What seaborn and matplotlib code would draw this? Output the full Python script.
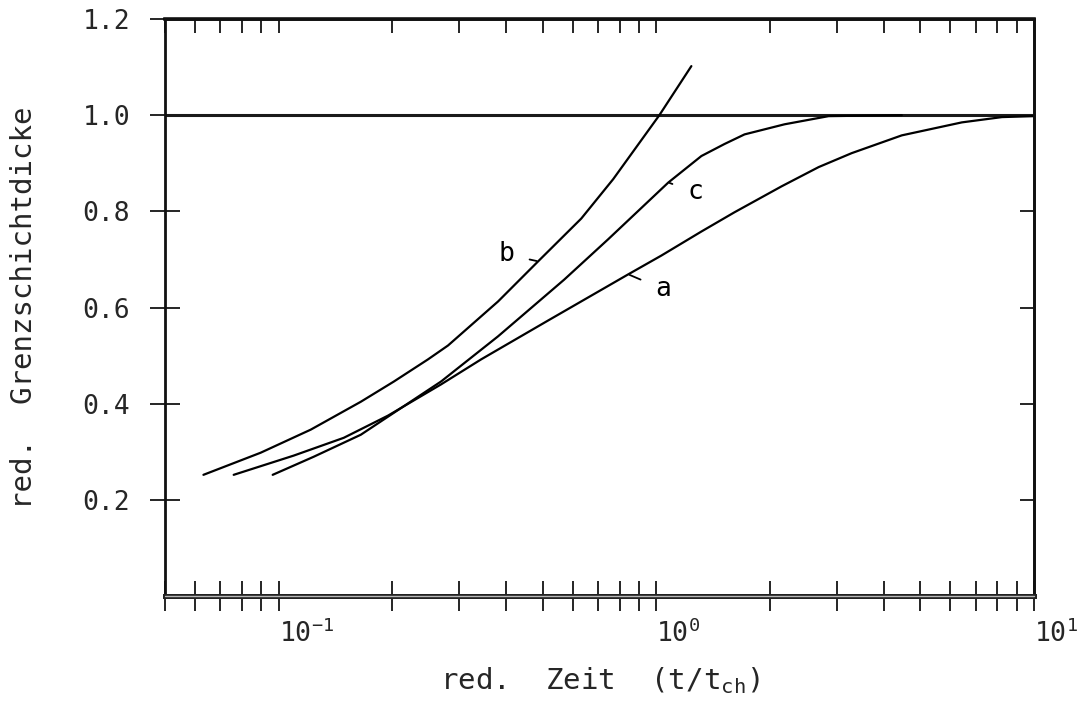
import numpy as np
import pandas as pd
import matplotlib
matplotlib.use("Agg")
import matplotlib.pyplot as plt
from matplotlib.ticker import FixedLocator, NullFormatter, FixedFormatter
import seaborn as sns

# reduced time t/t_ch and reduced boundary-layer thickness for the three cases
t_a = [0.0760, 0.1096, 0.1487, 0.1946, 0.2690, 0.3434, 0.5170, 0.8427, 1.031,
       1.316, 1.610, 2.146, 2.690, 3.290, 4.466, 6.442, 8.227, 10.0]
d_a = [0.252, 0.292, 0.329, 0.375, 0.440, 0.492, 0.573, 0.669, 0.708,
       0.758, 0.798, 0.852, 0.892, 0.921, 0.958, 0.985, 0.996, 0.998]

t_b = [0.0632, 0.0896, 0.1216, 0.1650, 0.2018, 0.2484, 0.2808, 0.3809, 0.4864,
       0.6327, 0.7688, 1.0186, 1.238]
d_b = [0.252, 0.298, 0.346, 0.404, 0.446, 0.492, 0.521, 0.6125, 0.696,
       0.785, 0.867, 1.0, 1.102]

t_c = [0.0964, 0.1238, 0.1650, 0.2018, 0.2690, 0.3809, 0.5702, 0.7457, 1.076,
       1.316, 1.515, 1.712, 2.185, 2.859, 4.466]
d_c = [0.252, 0.2896, 0.3354, 0.381, 0.446, 0.540, 0.658, 0.742, 0.860,
       0.915, 0.940, 0.960, 0.981, 0.998, 1.0]

curve_names = ["a", "b", "c"]
# point on each curve where its letter is attached (index into the series)
label_index = {"a": 7, "b": 8, "c": 8}
label_offset_px = {"a": (35, -15), "b": (-32, 7), "c": (27, -10)}

x_major = [0.1, 1.0, 10.0]
x_major_labels = [r"$10^{-1}$", r"$10^{0}$", r"$10^{1}$"]
y_ticks = [0.2, 0.4, 0.6, 0.8, 1.0, 1.2]
y_tick_labels = ["0.2", "0.4", "0.6", "0.8", "1.0", "1.2"]

x_label = r"red.  Zeit  (t/t$_{\mathrm{ch}}$)"
y_label = "red.  Grenzschichtdicke"

sns.set_theme(style="white")
mono = "DejaVu Sans Mono"
plt.rcParams["font.family"] = [mono, "DejaVu Sans"]
plt.rcParams["mathtext.fontset"] = "custom"
plt.rcParams["mathtext.rm"] = mono
plt.rcParams["mathtext.it"] = mono
plt.rcParams["mathtext.bf"] = mono

df = pd.concat([
    pd.DataFrame({"t": t_a, "d": d_a, "curve": "a"}),
    pd.DataFrame({"t": t_b, "d": d_b, "curve": "b"}),
    pd.DataFrame({"t": t_c, "d": d_c, "curve": "c"}),
])

fig = plt.figure(figsize=(10.78, 7.13), dpi=100)
ax = fig.add_axes([165 / 1078, 117 / 713, 869 / 1078, 577 / 713])

for name in curve_names:
    sub = df[df["curve"] == name]
    sns.lineplot(data=sub, x="t", y="d", ax=ax, color="black", linewidth=1.6,
                 estimator=None, sort=False, legend=False)

ax.set_xscale("log")
ax.set_xlim(0.05, 10.0)
ax.set_ylim(0.0, 1.2)

# reference level of the fully developed layer
ax.axhline(1.0, color="#1a1a1a", linewidth=2.2, zorder=1)

# letters with short leader strokes
for name in curve_names:
    sub = df[df["curve"] == name].reset_index(drop=True)
    i = label_index[name]
    ax.annotate(name, xy=(sub.loc[i, "t"], sub.loc[i, "d"]),
                xytext=label_offset_px[name], textcoords="offset pixels",
                ha="center", va="center", fontsize=19, color="black",
                arrowprops=dict(arrowstyle="-", color="black", lw=1.3,
                                shrinkA=9, shrinkB=1))

# frame
for side in ["left", "right", "top"]:
    ax.spines[side].set_visible(True)
    ax.spines[side].set_color("#111111")
    ax.spines[side].set_linewidth(2.0)
ax.spines["bottom"].set_color("#222222")
ax.spines["bottom"].set_linewidth(3.6)
ax.axhline(0.0, color="#b8b8b8", linewidth=1.0, clip_on=False, zorder=5)

# x ticks: through the bottom axis, inward on top
x_minor = [m * 10.0 ** e for e in (-2, -1, 0) for m in range(2, 10)]
x_minor = [v for v in x_minor if 0.049 < v < 10.0]
ax.xaxis.set_major_locator(FixedLocator(x_major))
ax.xaxis.set_major_formatter(FixedFormatter(x_major_labels))
ax.xaxis.set_minor_locator(FixedLocator(x_minor))
ax.xaxis.set_minor_formatter(NullFormatter())
ax.tick_params(axis="x", which="both", bottom=True, top=False, direction="inout",
               length=22, width=1.2, color="black")
ax.tick_params(axis="x", which="major", labelsize=19, pad=6)
for lab in ax.get_xticklabels():
    lab.set_horizontalalignment("left")

ax.yaxis.set_major_locator(FixedLocator(y_ticks))
ax.yaxis.set_major_formatter(FixedFormatter(y_tick_labels))
ax.tick_params(axis="y", which="major", left=True, right=False, direction="inout",
               length=22, width=1.2, color="black", labelsize=19, pad=14)

top = ax.secondary_xaxis("top")
top.xaxis.set_major_locator(FixedLocator(x_major))
top.xaxis.set_minor_locator(FixedLocator(x_minor))
top.xaxis.set_major_formatter(NullFormatter())
top.xaxis.set_minor_formatter(NullFormatter())
top.tick_params(axis="x", which="both", direction="in", length=10, width=1.2,
                color="black")
top.spines["top"].set_linewidth(2.6)
top.spines["top"].set_color("#111111")

right = ax.secondary_yaxis("right")
right.yaxis.set_major_locator(FixedLocator(y_ticks[:-1]))
right.yaxis.set_major_formatter(NullFormatter())
right.tick_params(axis="y", which="major", direction="in", length=10, width=1.2,
                  color="black")
right.spines["right"].set_linewidth(2.0)

ax.set_xlabel(x_label, fontsize=21, labelpad=12)
ax.set_ylabel(y_label, fontsize=21, labelpad=32)

fig.savefig("out.png", dpi=100, facecolor="white")
